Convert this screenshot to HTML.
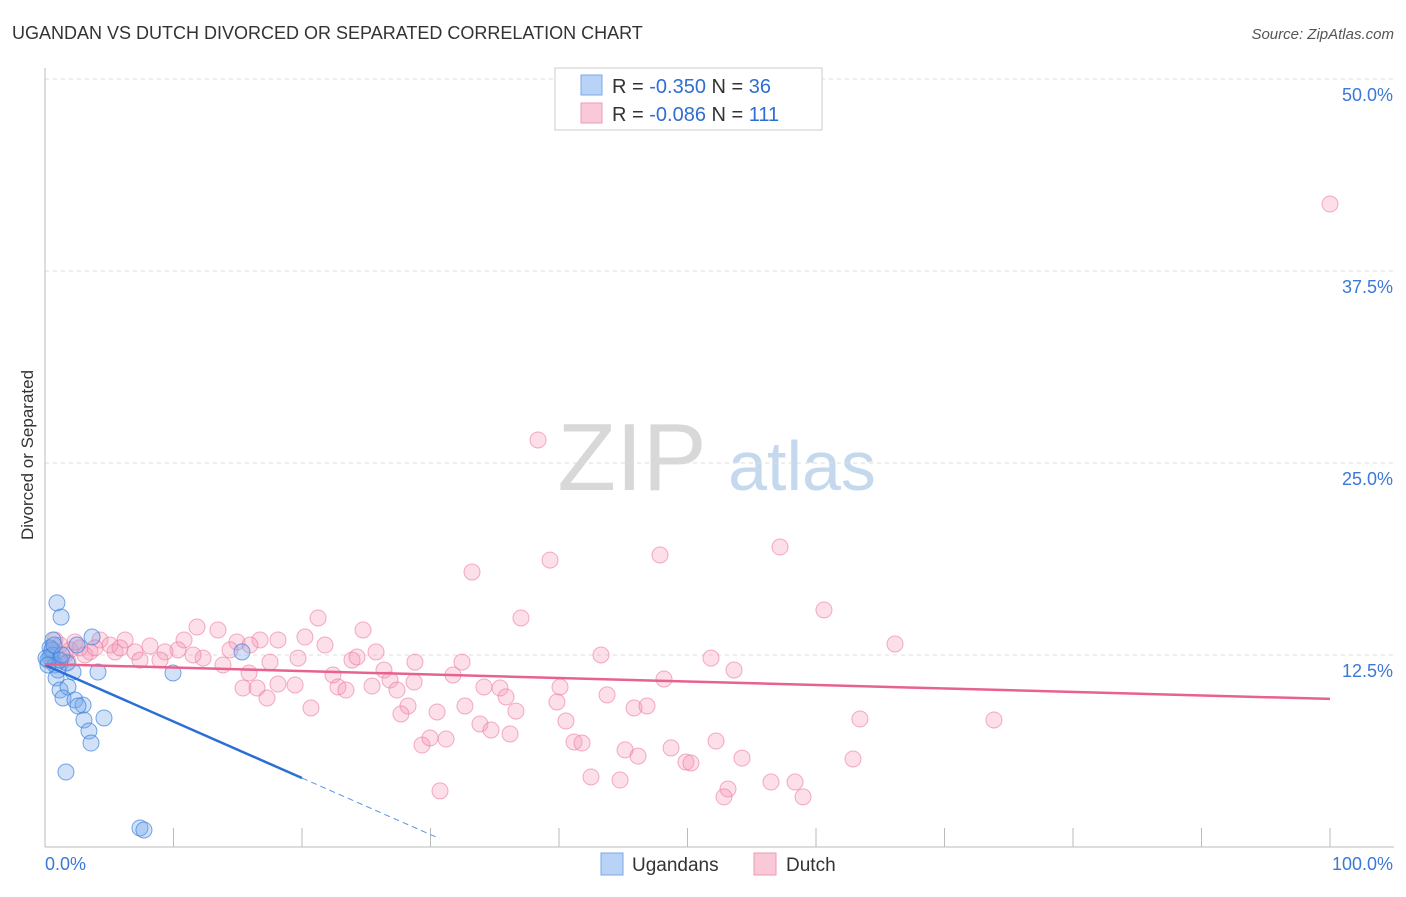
<!DOCTYPE html>
<html><head><meta charset="utf-8"><style>
body{margin:0;background:#fff;font-family:"Liberation Sans",sans-serif;}
svg text{font-family:"Liberation Sans",sans-serif;}
</style></head><body>
<svg id="chart" width="1406" height="892" xmlns="http://www.w3.org/2000/svg">
<text x="12" y="39" font-size="18" fill="#333">UGANDAN VS DUTCH DIVORCED OR SEPARATED CORRELATION CHART</text>
<text x="1394" y="39" font-size="15" fill="#555" text-anchor="end" font-style="italic">Source: ZipAtlas.com</text>
<g>
<text x="632" y="490" font-size="96" fill="#d8d8d8" font-family="Liberation Serif" text-anchor="middle">ZIP</text>
<text x="802" y="490" font-size="70" fill="#c5d9ee" text-anchor="middle">atlas</text>
</g>
<g id="grid"></g>
<g id="axes"></g>
<g id="pts"></g>
<g id="lines"></g>
<text transform="translate(33,455) rotate(-90)" font-size="17" fill="#333" text-anchor="middle">Divorced or Separated</text>
<g>
<rect x="555" y="68" width="267" height="62" fill="#fff" stroke="#ccc"/>
<rect x="581" y="75" width="21" height="20" fill="#b8d3f5" stroke="#7aaae8"/>
<rect x="581" y="103" width="21" height="20" fill="#f9c9d8" stroke="#ee9ab5"/>
<text x="612" y="93" font-size="20" fill="#333">R = <tspan fill="#2f6fd1">-0.350</tspan>   N = <tspan fill="#2f6fd1">36</tspan></text>
<text x="612" y="121" font-size="20" fill="#333">R = <tspan fill="#2f6fd1">-0.086</tspan>   N = <tspan fill="#2f6fd1">111</tspan></text>
</g>
<g>
<rect x="601" y="853" width="22" height="22" fill="#b8d3f5" stroke="#7aaae8"/>
<text x="632" y="871" font-size="19" fill="#333">Ugandans</text>
<rect x="754" y="853" width="22" height="22" fill="#f9c9d8" stroke="#ee9ab5"/>
<text x="786" y="871" font-size="19" fill="#333">Dutch</text>
</g>
</svg>
<script>
const yTicks=[12.5,25.0,37.5,50.0];
const yTickLabels=["12.5%","25.0%","37.5%","50.0%"];
const xTicks=[0,10,20,30,40,50,60,70,80,90,100];
const xEndLabels=["0.0%","100.0%"];
const ugX=[0.93,1.25,0.62,0.39,0.54,0.23,0.78,1.01,0.39,1.71,2.49,3.66,4.12,2.18,0.86,1.17,1.79,1.4,2.33,2.96,2.57,3.03,4.59,3.42,3.58,1.63,7.39,7.7,9.96,15.33,0.54,0.08,1.17,0.23,1.32,0.7];
const ugY=[15.89,14.97,13.48,12.96,12.5,12.17,11.85,11.52,12.37,11.98,13.15,13.67,11.39,11.39,11.0,10.22,10.42,9.7,9.57,9.24,9.18,8.27,8.4,7.55,6.77,4.88,1.24,1.11,11.33,12.7,12.83,12.3,12.17,11.85,12.5,13.15];
const duX=[100,38.37,39.3,47.86,57.2,33.23,60.62,37.04,21.25,24.75,66.15,11.83,13.46,20.23,16.73,14.94,18.13,10.82,4.28,6.23,8.17,10.35,9.34,7.0,5.45,12.3,11.52,14.4,15.95,17.51,19.69,21.79,23.89,24.28,25.76,26.38,28.79,32.45,31.75,34.16,35.41,35.88,40.08,43.74,43.27,48.17,51.83,53.62,13.85,15.88,15.41,16.5,17.28,18.13,19.46,20.7,22.41,22.8,23.42,25.45,26.85,27.39,28.25,27.7,28.72,30.51,32.68,33.85,34.71,36.19,36.65,39.84,40.54,41.17,41.79,45.84,46.85,45.14,46.15,48.72,49.88,50.27,52.22,54.24,42.49,44.75,53.15,52.84,56.5,58.37,58.99,30.74,29.34,29.96,31.21,63.42,73.85,62.88,1.17,1.95,2.72,3.5,0.78,1.56,2.33,3.11,0.54,5.06,7.39,8.95,1.01,1.79,3.89,5.84];
const duY=[41.86,26.5,18.68,19.01,19.53,17.9,15.43,14.91,14.91,14.13,13.22,14.32,14.13,13.67,13.48,13.35,13.48,13.48,13.48,13.48,13.09,12.83,12.7,12.7,12.7,12.3,12.5,12.83,13.15,12.04,12.3,13.15,12.17,12.37,12.7,11.52,12.04,12.04,11.2,10.42,10.35,9.77,10.42,9.9,12.5,10.94,12.3,11.52,11.85,11.33,10.35,10.35,9.7,10.61,10.55,9.05,11.2,10.42,10.22,10.48,10.87,10.22,9.18,8.66,10.74,8.79,9.18,8.01,7.62,7.36,8.85,9.44,8.2,6.84,6.77,9.05,9.18,6.32,5.92,6.45,5.53,5.47,6.9,5.79,4.56,4.36,3.78,3.26,4.23,4.23,3.26,3.65,6.64,7.1,7.03,8.33,8.27,5.73,13.15,12.83,12.96,12.7,13.48,12.5,13.35,12.5,12.7,13.15,12.17,12.17,12.17,12.04,12.96,12.96];
const ugTrend=[11.85,-0.368]; // intercept, slope per %
const ugSolidEnd=20, ugDashEnd=30.7;
const duTrend=[11.91,-0.0227];

const NS="http://www.w3.org/2000/svg";
const X=v=>45+v*12.85, Y=v=>847-v*15.36;
function mk(tag,attrs,parent){const e=document.createElementNS(NS,tag);for(const k in attrs)e.setAttribute(k,attrs[k]);document.getElementById(parent).appendChild(e);return e;}
yTicks.forEach((t,i)=>{
 const l=mk('line',{x1:45,x2:1394,y1:Y(t),y2:Y(t),stroke:'#ddd','stroke-dasharray':'4,4'},'grid');
 
 
 const tx=mk('text',{x:1393,y:Y(t)+22,'font-size':18,fill:'#3b78d8','text-anchor':'end'},'grid');
 tx.textContent=yTickLabels[i];
 
 
});
let a=mk('line',{x1:45,x2:45,y1:68,y2:847,stroke:'#bbb'},'axes');


a=mk('line',{x1:45,x2:1394,y1:847,y2:847,stroke:'#bbb'},'axes');


xTicks.forEach(t=>{
 const l=mk('line',{x1:X(t),x2:X(t),y1:828,y2:847,stroke:'#bbb'},'axes');
 
 
});
let t0=mk('text',{x:45,y:870,'font-size':18,fill:'#3b78d8'},'axes');t0.textContent=xEndLabels[0];


let t1=mk('text',{x:1393,y:870,'font-size':18,fill:'#3b78d8','text-anchor':'end'},'axes');t1.textContent=xEndLabels[1];


duX.forEach((x,i)=>{
 const c=mk('circle',{cx:X(x),cy:Y(duY[i]),r:8,fill:'rgba(244,150,180,0.3)',stroke:'rgba(236,120,160,0.6)','stroke-width':1},'pts');
 
 
});
ugX.forEach((x,i)=>{
 const c=mk('circle',{cx:X(x),cy:Y(ugY[i]),r:8,fill:'rgba(120,170,235,0.35)',stroke:'rgba(60,130,220,0.7)','stroke-width':1},'pts');
 
 
});
const uy=v=>ugTrend[0]+ugTrend[1]*v, dy=v=>duTrend[0]+duTrend[1]*v;
let l=mk('line',{x1:X(0),y1:Y(uy(0)),x2:X(ugSolidEnd),y2:Y(uy(ugSolidEnd)),stroke:'#2a6fd6','stroke-width':2.5},'lines');


l=mk('line',{x1:X(ugSolidEnd),y1:Y(uy(ugSolidEnd)),x2:X(ugDashEnd),y2:Y(uy(ugDashEnd)),stroke:'#5b95e0','stroke-width':1,'stroke-dasharray':'6,4'},'lines');


l=mk('line',{x1:X(0),y1:Y(dy(0)),x2:X(100),y2:Y(dy(100)),stroke:'#e8628f','stroke-width':2.5},'lines');


</script>
</body></html>
